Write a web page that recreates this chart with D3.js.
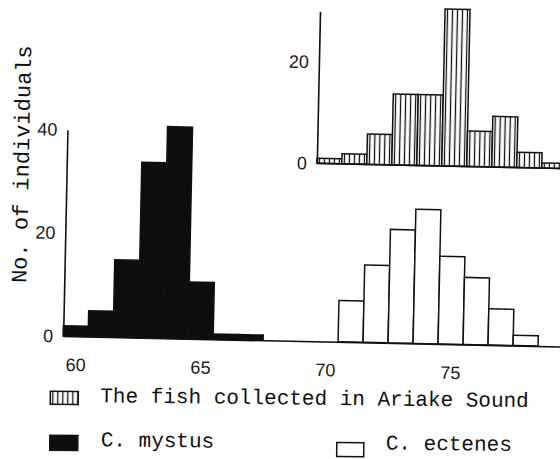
<!DOCTYPE html>
<meta charset="utf-8">
<style>
    body { margin: 0; background: #fff; }
    .tick text { font-family: "Liberation Sans", Arial, sans-serif; font-size: 18px; fill: #1a1a1a; }
    .mono { font-family: "Liberation Mono", "Courier New", monospace; fill: #111; }
    .domain { stroke: #111; stroke-width: 1.6px; }
</style>
<body>
<script src="https://d3js.org/d3.v7.min.js"></script>
<script>
    // bins are centred on whole values
    var mystusBins = [60, 61, 62, 63, 64, 65, 66, 67];
    var mystusCounts = [2, 5, 15, 34, 41, 11, 1, 1];

    var ectenesBins = [71, 72, 73, 74, 75, 76, 77, 78];
    var ectenesCounts = [8, 15, 22, 26, 17, 13, 7, 2];

    var ariakeBins = [70, 71, 72, 73, 74, 75, 76, 77, 78, 79];
    var ariakeCounts = [1, 2, 6, 14, 14, 31, 7, 10, 3, 1];

    var xTicks = [60, 65, 70, 75];
    var yTicks = [0, 20, 40];
    var insetTicks = [0, 20];

    var svg = d3.select("body").append("svg").attr("width", 560).attr("height", 459);

    var defs = svg.append("defs");
    var pat = defs.append("pattern").attr("id", "vhatch")
        .attr("patternUnits", "userSpaceOnUse").attr("width", 5).attr("height", 10);
    pat.append("rect").attr("width", 5).attr("height", 10).attr("fill", "#fff");
    pat.append("line").attr("x1", 2.5).attr("x2", 2.5).attr("y1", 0).attr("y2", 10)
        .attr("stroke", "#111").attr("stroke-width", 1.3);

    // the scanned figure sits a little askew
    var root = svg.append("g").attr("transform", "rotate(1.2,300,250)");

    var x = d3.scaleLinear().domain([59.5, 79.5]).range([65, 565]);
    var y = d3.scaleLinear().domain([0, 40]).range([341, 134.6]);
    var yIn = d3.scaleLinear().domain([0, 30]).range([163, 11]);

    function bars(g, bins, counts, yScale, fill) {
        g.selectAll(null)
            .data(bins)
            .enter().append("rect")
            .attr("x", function(d) { return x(d - 0.5); })
            .attr("width", function(d) { return x(d + 0.5) - x(d - 0.5); })
            .attr("y", function(d, i) { return yScale(counts[i]); })
            .attr("height", function(d, i) { return yScale(0) - yScale(counts[i]); })
            .attr("fill", fill)
            .attr("stroke", "#111")
            .attr("stroke-width", 1.5);
    }

    // main panel
    bars(root, mystusBins, mystusCounts, y, "#0d0d0d");
    bars(root, ectenesBins, ectenesCounts, y, "#fff");

    root.append("g").attr("transform", "translate(0," + y(0) + ")")
        .call(d3.axisBottom(x).tickValues(xTicks).tickSize(0).tickPadding(22).tickFormat(d3.format("d")));

    root.append("g").attr("transform", "translate(" + x(59.5) + ",0)")
        .call(d3.axisLeft(y).tickValues(yTicks).tickSize(0).tickPadding(10));

    // inset panel
    var inset = root.append("g");
    bars(inset, ariakeBins, ariakeCounts, yIn, "url(#vhatch)");
    inset.append("line")
        .attr("x1", x(69.5)).attr("x2", x(79.5))
        .attr("y1", yIn(0)).attr("y2", yIn(0))
        .attr("stroke", "#111").attr("stroke-width", 1.6);
    inset.append("g").attr("transform", "translate(" + x(69.5) + ",0)")
        .call(d3.axisLeft(yIn).tickValues(insetTicks).tickSize(0).tickPadding(10));

    root.append("text").attr("class", "mono")
        .attr("transform", "translate(27,170) rotate(-90)")
        .attr("text-anchor", "middle")
        .style("font-size", "22px")
        .text("No. of individuals");

    // legend
    var leg = svg.append("g").attr("transform", "rotate(0.65,300,425)");
    leg.append("rect").attr("x", 50).attr("y", 394).attr("width", 28).attr("height", 13)
        .attr("fill", "url(#vhatch)").attr("stroke", "#111").attr("stroke-width", 1.5);
    leg.append("text").attr("class", "mono").attr("x", 100).attr("y", 404.5)
        .style("font-size", "21px").text("The fish collected in Ariake Sound");

    leg.append("rect").attr("x", 50).attr("y", 438).attr("width", 28).attr("height", 15)
        .attr("fill", "#0d0d0d").attr("stroke", "#111").attr("stroke-width", 1.5);
    leg.append("text").attr("class", "mono").attr("x", 101).attr("y", 448.5)
        .style("font-size", "21px").text("C. mystus");

    leg.append("rect").attr("x", 337).attr("y", 442).attr("width", 27).attr("height", 14)
        .attr("fill", "#fff").attr("stroke", "#111").attr("stroke-width", 1.5);
    leg.append("text").attr("class", "mono").attr("x", 386).attr("y", 448.5)
        .style("font-size", "21px").text("C. ectenes");
</script>
</body>
